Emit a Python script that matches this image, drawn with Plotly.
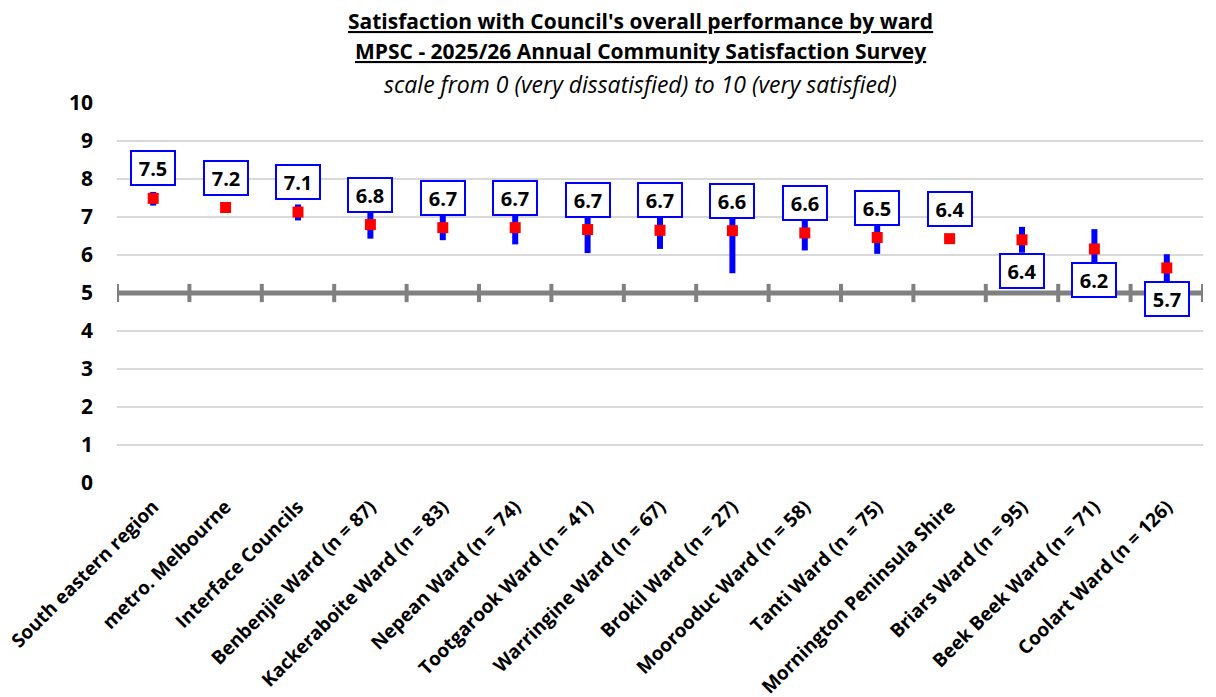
import plotly.graph_objects as go

categories = [
    "South eastern region", "metro. Melbourne", "Interface Councils",
    "Benbenjie Ward (n = 87)", "Kackeraboite Ward (n = 83)", "Nepean Ward (n = 74)",
    "Tootgarook Ward (n = 41)", "Warringine Ward (n = 67)", "Brokil Ward (n = 27)",
    "Moorooduc Ward (n = 58)", "Tanti Ward (n = 75)", "Mornington Peninsula Shire",
    "Briars Ward (n = 95)", "Beek Beek Ward (n = 71)", "Coolart Ward (n = 126)",
]
means = [7.49, 7.25, 7.13, 6.80, 6.72, 6.72, 6.67, 6.65, 6.64, 6.58, 6.46, 6.43, 6.40, 6.16, 5.66]
ci_upper = [7.66, 7.25, 7.33, 7.17, 7.05, 7.16, 7.29, 7.14, 7.76, 7.04, 6.90, 6.43, 6.74, 6.68, 6.02]
ci_lower = [7.30, 7.25, 6.91, 6.43, 6.39, 6.28, 6.05, 6.16, 5.52, 6.12, 6.03, 6.43, 6.06, 5.63, 5.28]
reference_level = 5
y_ticks = [0, 1, 2, 3, 4, 5, 6, 7, 8, 9, 10]

title_lines = [
    "<b><u>Satisfaction with Council's overall performance by ward</u></b>",
    "<b><u>MPSC - 2025/26 Annual Community Satisfaction Survey</u></b>",
    "<i>scale from 0 (very dissatisfied) to 10 (very satisfied)</i>",
]

# style: which labels sit under their point
label_below = [False] * 12 + [True] * 3

FONT = "Open Sans"
W, H = 1208, 689
L, R, T, B = 109, 13, 95, 214
plot_w = W - L - R
plot_h = H - T - B

n = len(categories)
xs = list(range(n))

fig = go.Figure()

# reference line at 5 with category separators
bounds = [i - 0.5 for i in range(n + 1)]
fig.add_trace(go.Scatter(
    x=bounds, y=[reference_level] * len(bounds), mode="lines+markers",
    line=dict(color="#808080", width=5),
    marker=dict(symbol="line-ns", size=13, line=dict(color="#808080", width=4), color="#808080"),
    hoverinfo="skip", showlegend=False,
))

fig.add_trace(go.Scatter(
    x=xs, y=means, mode="markers",
    marker=dict(symbol="square", size=11, color="#ff0000"),
    error_y=dict(
        type="data", symmetric=False,
        array=[u - m for u, m in zip(ci_upper, means)],
        arrayminus=[m - l for m, l in zip(means, ci_lower)],
        color="#0000ff", thickness=6, width=0,
    ),
    showlegend=False,
))

for i, (m, below) in enumerate(zip(means, label_below)):
    fig.add_annotation(
        x=i, y=m, xref="x", yref="y", text=f"<b>{m:.1f}</b>", showarrow=False,
        yshift=-31 if below else 30,
        font=dict(family=FONT, size=20, color="#000000"),
        bgcolor="#ffffff", bordercolor="#0000ff", borderwidth=2, borderpad=2,
        width=38, height=28,
    )

title_y_px = [13, 43, 76]
title_sizes = [21, 21, 23]
for t, ypx, fs in zip(title_lines, title_y_px, title_sizes):
    fig.add_annotation(
        x=(632 - L) / plot_w, y=(H - B - ypx) / plot_h, xref="paper", yref="paper",
        xanchor="center", yanchor="middle", text=t, showarrow=False,
        font=dict(family=FONT, size=fs, color="#000000"),
    )

fig.update_layout(
    width=W, height=H,
    margin=dict(l=L, r=R, t=T, b=B, autoexpand=False),
    paper_bgcolor="#ffffff", plot_bgcolor="#ffffff",
    font=dict(family=FONT, color="#000000"),
    xaxis=dict(
        range=[-0.5, n - 0.5], tickvals=xs, ticktext=[f"<b>{c}</b>" for c in categories],
        tickangle=-45, tickfont=dict(family=FONT, size=19, color="#000000"),
        showgrid=False, zeroline=False, showline=False, ticks="", automargin=False,
        ticklabeloverflow="allow", ticklabelstandoff=8,
    ),
    yaxis=dict(
        range=[0, 10], tickvals=y_ticks, ticktext=[f"<b>{v}</b>" for v in y_ticks],
        tickfont=dict(family=FONT, size=21, color="#000000"),
        showgrid=True, gridcolor="#d9d9d9", gridwidth=1.5, zeroline=False,
        showline=False, ticks="", ticklabelstandoff=23, automargin=False,
    ),
)

fig.write_html("out.html")
